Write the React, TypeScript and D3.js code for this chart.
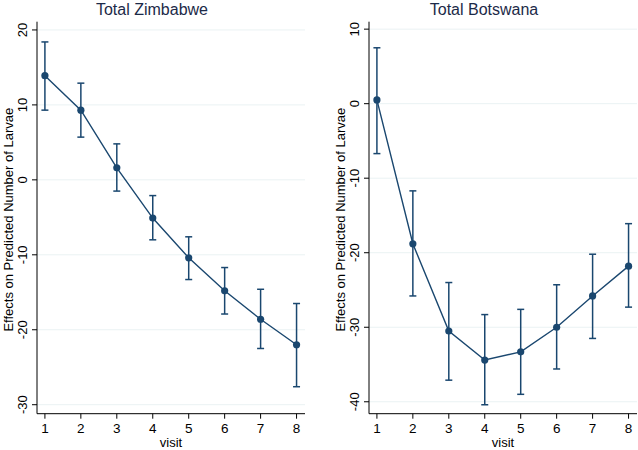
import React, { useEffect, useRef } from "react";
import * as d3 from "d3";

const visits = [1, 2, 3, 4, 5, 6, 7, 8];

const zimEstimate = [13.9, 9.3, 1.6, -5.1, -10.4, -14.8, -18.6, -22.0];
const zimLower = [9.3, 5.7, -1.5, -8.0, -13.3, -17.9, -22.5, -27.6];
const zimUpper = [18.4, 12.9, 4.8, -2.1, -7.6, -11.7, -14.6, -16.5];
const zimTicks = [20, 10, 0, -10, -20, -30];

const botEstimate = [0.5, -18.8, -30.5, -34.4, -33.3, -30.0, -25.8, -21.8];
const botLower = [-6.7, -25.8, -37.1, -40.4, -39.0, -35.6, -31.5, -27.3];
const botUpper = [7.5, -11.7, -24.0, -28.3, -27.6, -24.3, -20.2, -16.1];
const botTicks = [10, 0, -10, -20, -30, -40];

const W = 638;
const H = 450;
const navy = "#1a476f";
const font = "'Liberation Sans', Arial, sans-serif";

const panels = [
  {
    title: "Total Zimbabwe",
    est: zimEstimate,
    lo: zimLower,
    hi: zimUpper,
    ticks: zimTicks,
    yDomain: [-31.2, 21.1],
    offset: 0,
  },
  {
    title: "Total Botswana",
    est: botEstimate,
    lo: botLower,
    hi: botUpper,
    ticks: botTicks,
    yDomain: [-41.6, 11.0],
    offset: 332,
  },
];

export default function App() {
  const svgRef = useRef<SVGSVGElement>(null);

  useEffect(() => {
    const svg = d3.select(svgRef.current);
    svg.selectAll("*").remove();

    svg.append("rect").attr("width", W).attr("height", H).attr("fill", "#fff");

    panels.forEach((p) => {
      const left = 37 + p.offset;
      const right = 305 + p.offset;
      const top = 21.7;
      const bottom = 413.7;

      const x = d3.scaleLinear().domain([0.78, 8.235]).range([left, right]);
      const y = d3.scaleLinear().domain(p.yDomain).range([bottom, top]);

      const g = svg.append("g");

      // title
      g.append("text")
        .attr("x", 152 + p.offset)
        .attr("y", 15)
        .attr("text-anchor", "middle")
        .style("font-family", font)
        .style("font-size", "16px")
        .style("fill", "#1c2a48")
        .text(p.title);

      // gridlines
      g.selectAll(".grid")
        .data(p.ticks)
        .enter()
        .append("line")
        .attr("x1", left)
        .attr("x2", right)
        .attr("y1", (d) => y(d))
        .attr("y2", (d) => y(d))
        .attr("stroke", "#eaf2f3")
        .attr("stroke-width", 1);

      // y axis
      g.append("line")
        .attr("x1", left)
        .attr("x2", left)
        .attr("y1", top)
        .attr("y2", bottom)
        .attr("stroke", "#000")
        .attr("stroke-width", 1);

      g.selectAll(".ytick")
        .data(p.ticks)
        .enter()
        .append("line")
        .attr("x1", left - 5)
        .attr("x2", left)
        .attr("y1", (d) => y(d))
        .attr("y2", (d) => y(d))
        .attr("stroke", "#000");

      g.selectAll(".ylab")
        .data(p.ticks)
        .enter()
        .append("text")
        .attr("transform", (d) => `translate(${left - 10.3}, ${y(d)}) rotate(-90)`)
        .attr("text-anchor", "middle")
        .style("font-family", font)
        .style("font-size", "13px")
        .style("fill", "#000")
        .text((d) => d);

      g.append("text")
        .attr("transform", `translate(${left - 24.3}, ${(top + bottom) / 2 + 2}) rotate(-90)`)
        .attr("text-anchor", "middle")
        .style("font-family", font)
        .style("font-size", "13px")
        .style("fill", "#000")
        .text("Effects on Predicted Number of Larvae");

      // x axis
      g.append("line")
        .attr("x1", left)
        .attr("x2", right)
        .attr("y1", bottom)
        .attr("y2", bottom)
        .attr("stroke", "#000")
        .attr("stroke-width", 1);

      g.selectAll(".xtick")
        .data(visits)
        .enter()
        .append("line")
        .attr("x1", (d) => x(d))
        .attr("x2", (d) => x(d))
        .attr("y1", bottom)
        .attr("y2", bottom + 5)
        .attr("stroke", "#000");

      g.selectAll(".xlab")
        .data(visits)
        .enter()
        .append("text")
        .attr("x", (d) => x(d))
        .attr("y", 433)
        .attr("text-anchor", "middle")
        .style("font-family", font)
        .style("font-size", "13.5px")
        .style("fill", "#000")
        .text((d) => d);

      g.append("text")
        .attr("x", (left + right) / 2)
        .attr("y", 446.5)
        .attr("text-anchor", "middle")
        .style("font-family", font)
        .style("font-size", "13px")
        .style("fill", "#000")
        .text("visit");

      // error bars
      const bars = g
        .selectAll(".bar")
        .data(visits.map((v, i) => ({ v, lo: p.lo[i], hi: p.hi[i] })))
        .enter()
        .append("g");

      bars
        .append("line")
        .attr("x1", (d) => x(d.v))
        .attr("x2", (d) => x(d.v))
        .attr("y1", (d) => y(d.lo))
        .attr("y2", (d) => y(d.hi))
        .attr("stroke", navy)
        .attr("stroke-width", 1.5);

      bars
        .append("line")
        .attr("x1", (d) => x(d.v) - 3.5)
        .attr("x2", (d) => x(d.v) + 3.5)
        .attr("y1", (d) => y(d.lo))
        .attr("y2", (d) => y(d.lo))
        .attr("stroke", navy)
        .attr("stroke-width", 1.5);

      bars
        .append("line")
        .attr("x1", (d) => x(d.v) - 3.5)
        .attr("x2", (d) => x(d.v) + 3.5)
        .attr("y1", (d) => y(d.hi))
        .attr("y2", (d) => y(d.hi))
        .attr("stroke", navy)
        .attr("stroke-width", 1.5);

      // connecting line
      const line = d3
        .line<number>()
        .x((d, i) => x(visits[i]))
        .y((d) => y(d));

      g.append("path")
        .datum(p.est)
        .attr("d", line)
        .attr("fill", "none")
        .attr("stroke", navy)
        .attr("stroke-width", 1.4);

      g.selectAll(".pt")
        .data(p.est)
        .enter()
        .append("circle")
        .attr("cx", (d, i) => x(visits[i]))
        .attr("cy", (d) => y(d))
        .attr("r", 3.6)
        .attr("fill", navy);
    });
  }, []);

  return (
    <svg
      ref={svgRef}
      width={W}
      height={H}
      style={{ position: "absolute", left: 0, top: 0 }}
    ></svg>
  );
}
